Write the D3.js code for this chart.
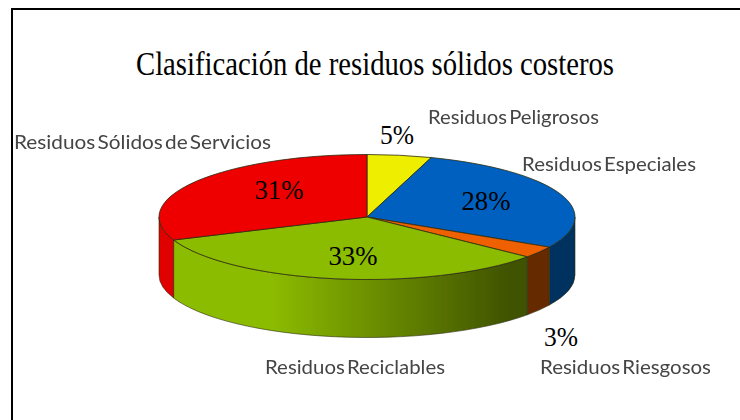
<!DOCTYPE html>
<html>
<head>
<meta charset="utf-8">
<script src="https://cdn.jsdelivr.net/npm/d3@7"></script>
<style>
    html, body { margin: 0; padding: 0; background: #fff; }
    svg { display: block; }
    .pct { font-family: "Liberation Serif", serif; font-size: 28px; fill: #000; text-anchor: middle; }
    .label { font-family: Lato, sans-serif; font-size: 20px; fill: #444; word-spacing: -3px; }
</style>
</head>
<body>
<div id="app"></div>
<script>
const categories = ["Residuos Peligrosos", "Residuos Especiales", "Residuos Riesgosos", "Residuos Reciclables", "Residuos Sólidos de Servicios"];
const values = [5, 28, 3, 33, 31];
const percentLabels = ["5%", "28%", "3%", "33%", "31%"];
const topColors = ["#eeee00", "#0060bf", "#ee6000", "#8cbc00", "#ee0000"];
const sideColors = ["#8c8c00", "#00305f", "#662a00", "url(#greenSide)", "#e00000"];
const title = "Clasificación de residuos sólidos costeros";

const width = 740, height = 420;
const center = { x: 367, y: 217 };
const rx = 208, ry = 62.5, depth = 58;

const svg = d3.select("#app")
    .append("svg")
    .attr("width", width)
    .attr("height", height);

// soft look of the scaled up original
const defs = svg.append("defs");
defs.append("filter").attr("id", "soft")
    .append("feGaussianBlur").attr("stdDeviation", 0.5);

// the side is drawn inside the translated group, so the gradient runs in its coordinates
const grad = defs.append("linearGradient")
    .attr("id", "greenSide")
    .attr("gradientUnits", "userSpaceOnUse")
    .attr("x1", -rx).attr("x2", rx - 45)
    .attr("y1", 0).attr("y2", 0);
grad.append("stop").attr("offset", "0.3").attr("stop-color", "#8cbc00");
grad.append("stop").attr("offset", "0.95").attr("stop-color", "#3f5200");

// frame, open on the right
svg.append("path")
    .attr("d", d3.line()([[12, height], [12, 9], [width, 9]]))
    .attr("fill", "none")
    .attr("stroke", "#000")
    .attr("stroke-width", 2);

svg.append("text")
    .attr("x", 375)
    .attr("y", 75)
    .attr("text-anchor", "middle")
    .attr("font-family", "Liberation Serif, serif")
    .attr("font-size", 33)
    .attr("textLength", 478)
    .attr("lengthAdjust", "spacingAndGlyphs")
    .attr("fill", "#000")
    .text(title);

const arcs = d3.pie().sort(null)(values);

// point on the top ellipse for an angle, 0 at the top going clockwise
const px = (a) => rx * Math.sin(a);
const py = (a) => -ry * Math.cos(a);

const pie = svg.append("g")
    .attr("transform", `translate(${center.x},${center.y})`)
    .attr("filter", "url(#soft)");

// side wall: only the front half of the ellipse is visible
function sidePath(d) {
    const a0 = Math.max(d.startAngle, Math.PI / 2);
    const a1 = Math.min(d.endAngle, 3 * Math.PI / 2);
    if (a0 >= a1) return null;
    return `M${px(a0)},${py(a0)}`
        + `A${rx},${ry} 0 0 1 ${px(a1)},${py(a1)}`
        + `L${px(a1)},${py(a1) + depth}`
        + `A${rx},${ry} 0 0 0 ${px(a0)},${py(a0) + depth}Z`;
}

pie.selectAll("path.side")
    .data(arcs.filter(d => sidePath(d)))
    .join("path")
    .attr("class", "side")
    .attr("d", sidePath)
    .attr("fill", d => sideColors[d.index])
    .attr("stroke", "#2b2b10")
    .attr("stroke-width", 0.6);

// top face, circular arcs squashed to the ellipse
const arc = d3.arc().innerRadius(0).outerRadius(rx);
pie.append("g")
    .attr("transform", `scale(1,${ry / rx})`)
    .selectAll("path")
    .data(arcs)
    .join("path")
    .attr("d", arc)
    .attr("fill", d => topColors[d.index])
    .attr("stroke", "#2b2b10")
    .attr("stroke-width", 0.8)
    .attr("vector-effect", "non-scaling-stroke");

const pctPositions = [[397, 144], [486, 210], [561, 346], [353, 265], [279, 199]];
svg.selectAll("text.pct")
    .data(percentLabels)
    .join("text")
    .attr("class", "pct")
    .attr("x", (d, i) => pctPositions[i][0])
    .attr("y", (d, i) => pctPositions[i][1])
    .attr("textLength", d => d.length === 3 ? 49 : 34)
    .attr("lengthAdjust", "spacingAndGlyphs")
    .text(d => d);

const labelPositions = [[428, 124], [522, 171], [540, 374], [265, 374], [14, 149]];
const labelWidths = [171, 174, 171, 180, 257];
svg.selectAll("text.label")
    .data(categories)
    .join("text")
    .attr("class", "label")
    .attr("x", (d, i) => labelPositions[i][0])
    .attr("y", (d, i) => labelPositions[i][1])
    .attr("textLength", (d, i) => labelWidths[i])
    .attr("lengthAdjust", "spacingAndGlyphs")
    .attr("filter", "url(#soft)")
    .text(d => d);
</script>
</body>
</html>
